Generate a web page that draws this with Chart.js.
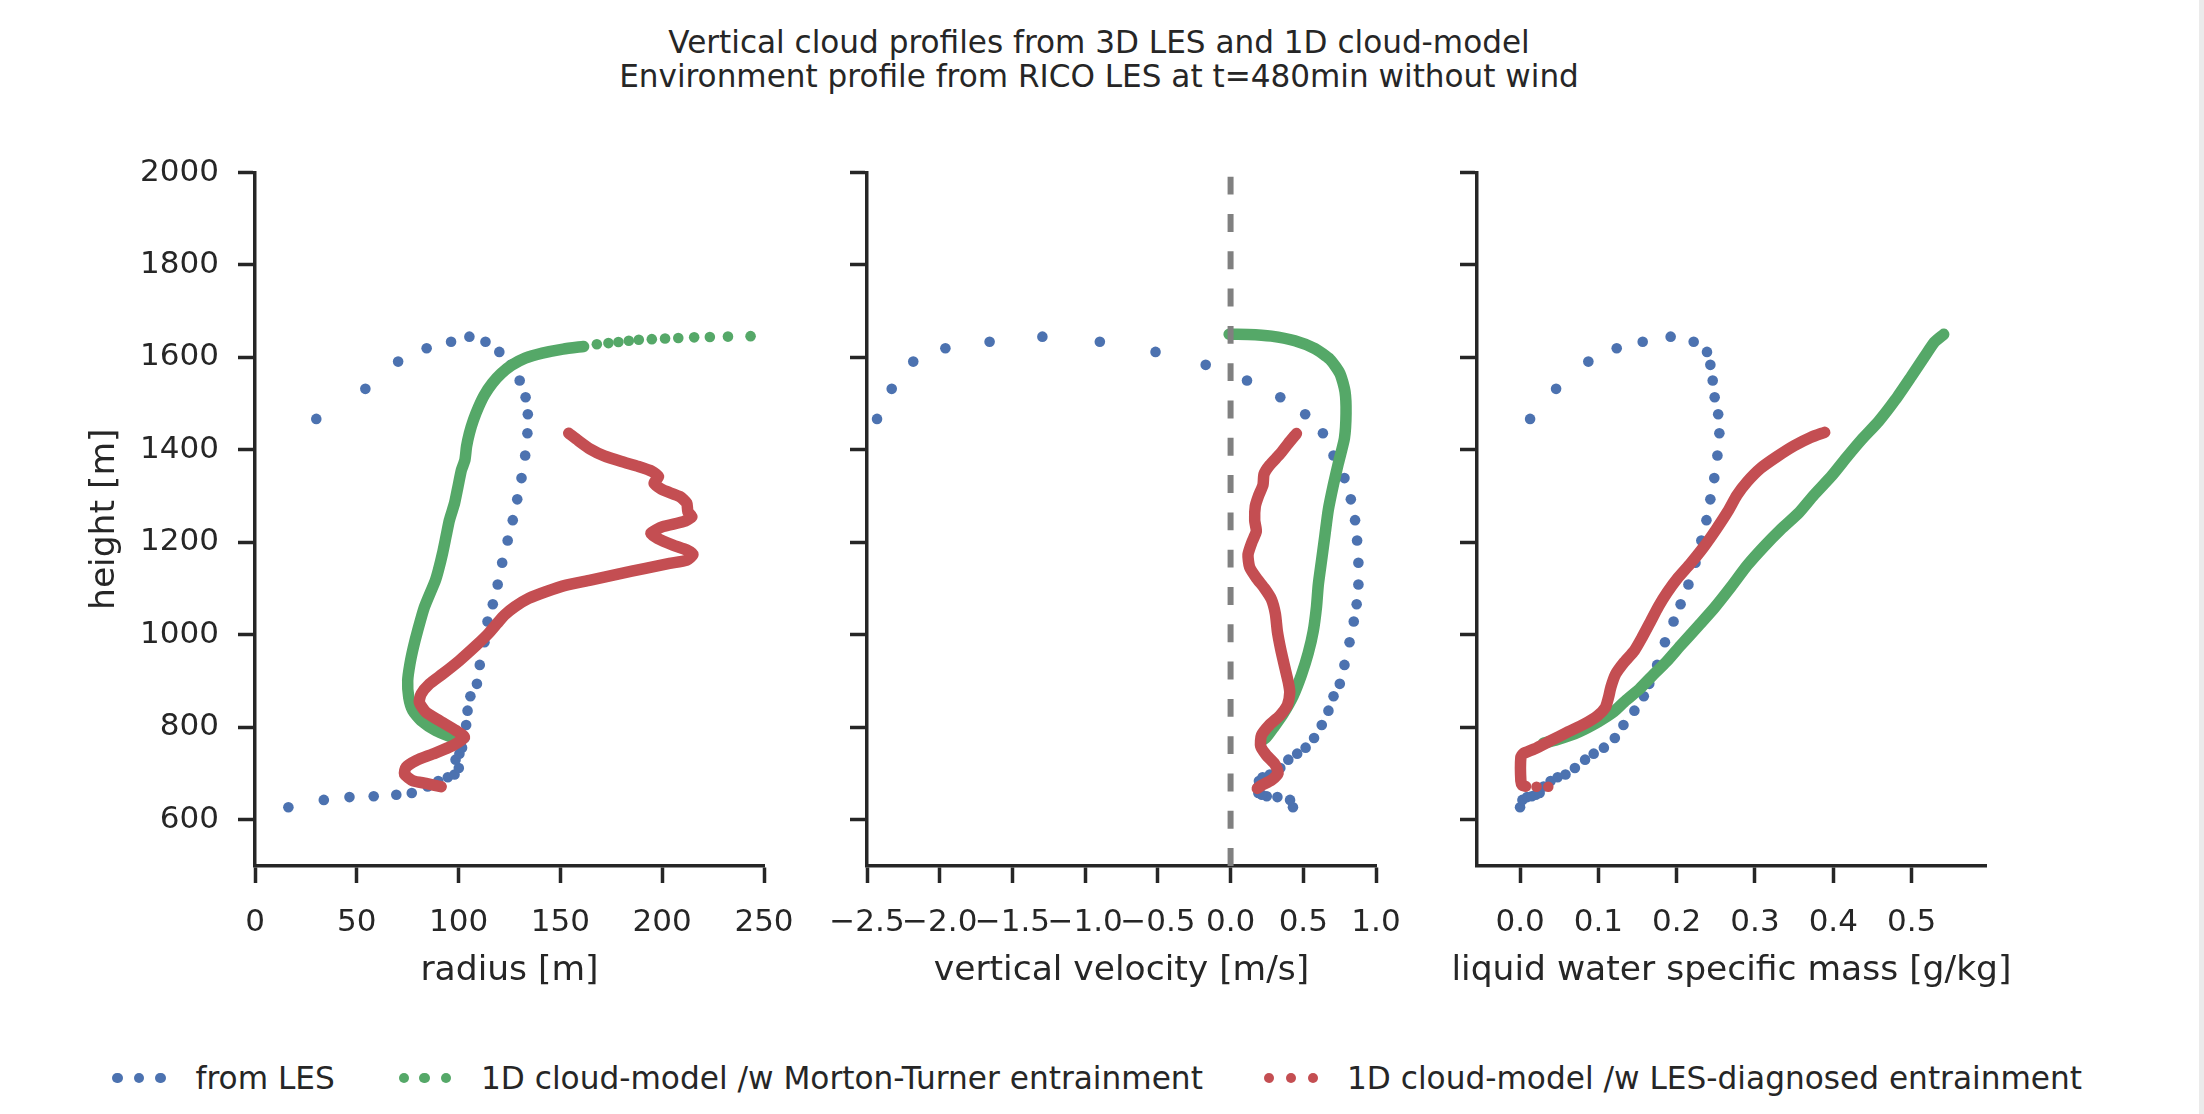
<!DOCTYPE html>
<html>
<head>
<meta charset="utf-8">
<title>Vertical cloud profiles</title>
<script src="https://cdn.jsdelivr.net/npm/chart.js@4.4.1/dist/chart.umd.min.js"></script>
<style>
  html, body { margin: 0; padding: 0; background: #ffffff; }
  body { width: 2204px; height: 1114px; position: relative; overflow: hidden;
         font-family: 'DejaVu Sans', sans-serif; color: #262626; }
  canvas { position: absolute; top: 0; }
  .title { position: absolute; left: 0; top: 25px; width: 2198px; text-align: center;
           font-size: 31.1px; line-height: 34px; white-space: pre; }
  .xlabel { position: absolute; top: 948px; width: 800px; text-align: center;
            font-size: 34.5px; line-height: 40px; white-space: pre; }
  .leg-dot { position: absolute; width: 10.6px; height: 10.6px; border-radius: 50%; }
  .leg-text { position: absolute; top: 1060px; font-size: 31.2px; line-height: 36px; white-space: pre; }
  .edge { position: absolute; left: 2199px; top: 0; width: 5px; height: 1114px; background: #ebebeb; }
</style>
</head>
<body>
<div class="title">Vertical cloud profiles from 3D LES and 1D cloud-model
Environment profile from RICO LES at t=480min without wind</div>

<canvas id="pRadius" width="825" height="1000" style="left:-1px"></canvas>
<canvas id="pVelocity" width="825" height="1000" style="left:611px"></canvas>
<canvas id="pLiquid" width="825" height="1000" style="left:1221px"></canvas>

<div id="xlabels"></div>
<div id="legend"></div>
<div class="edge"></div>

<script>
// ---------------- LES cloud samples (shared heights) ----------------
const lesHeight = [627, 643, 649, 651, 654, 658, 672, 684, 692, 698, 712, 730, 743, 756, 777, 805,
  836, 867, 894, 935, 984, 1029, 1066, 1109, 1156, 1204, 1248, 1293, 1339, 1388, 1436, 1477, 1514,
  1550, 1584, 1612, 1634, 1645, 1634, 1620, 1591, 1532, 1467];
const lesRadius = [16.4, 33.8, 46.4, 58.3, 69.4, 77.0, 84.8, 90.0, 94.7, 98.0, 100.1, 98.5, 100.4,
  101.7, 102.9, 103.7, 104.4, 105.8, 109.0, 110.4, 112.7, 114.2, 116.8, 119.2, 121.4, 124.1, 126.6,
  128.8, 130.9, 132.7, 133.8, 134.0, 132.9, 130.0, 125.7, 120.0, 113.2, 105.3, 96.3, 84.3, 70.3, 54.2, 30.1];
const lesVelocity = [0.429, 0.409, 0.322, 0.249, 0.215, 0.191, 0.19, 0.195, 0.22, 0.27, 0.342, 0.397,
  0.458, 0.516, 0.574, 0.627, 0.673, 0.708, 0.751, 0.783, 0.818, 0.847, 0.867, 0.879, 0.879, 0.870,
  0.856, 0.827, 0.783, 0.708, 0.635, 0.513, 0.342, 0.113, -0.171, -0.516, -0.899, -1.294, -1.657,
  -1.961, -2.182, -2.33, -2.431];
const lesLiquid = [0.000, 0.003, 0.009, 0.015, 0.020, 0.025, 0.030, 0.039, 0.048, 0.058, 0.070, 0.083,
  0.094, 0.107, 0.121, 0.132, 0.146, 0.158, 0.165, 0.175, 0.185, 0.196, 0.205, 0.215, 0.224, 0.2315,
  0.238, 0.243, 0.248, 0.252, 0.2545, 0.253, 0.2485, 0.246, 0.243, 0.2387, 0.2217, 0.1923, 0.1566,
  0.1234, 0.0872, 0.046, 0.0128];

// ---------------- 1D model, Morton-Turner entrainment ----------------
const mtRadius = [100, 98.8, 88.9, 81.6, 77.5, 75.5, 75, 76.1, 77.8, 79.9, 83.2, 88.6, 90.1, 92.1, 93.8,
  95.5, 98, 99.7, 101.4, 103.1, 103.9, 105.3, 107.3, 109.9, 112.7, 116.6, 120.8, 125.9, 132.7, 141.1,
  151.3, 161.4];
const mtRadiusHeight = [770, 774.7, 792.8, 814.5, 836.1, 865, 901.1, 937.2, 973.3, 1009.4, 1059.9,
  1117.7, 1140.1, 1176.2, 1212.3, 1248.4, 1284.5, 1320.6, 1356.7, 1378.3, 1407.2, 1436.1, 1465, 1493.9,
  1519.1, 1544.4, 1564.6, 1582.7, 1598.6, 1609.4, 1618.1, 1623.8];
// widely spaced top levels, where the model steps separate into single dots
const mtRadiusTop = [167.9, 173.6, 178.5, 183.6, 188.5, 194.9, 201.4, 207.9, 215.7, 223.4, 232.3, 243.4];
const mtRadiusTopHeight = [1628.5, 1631.0, 1633.4, 1636.2, 1638.3, 1639.5, 1640.9, 1642.1, 1643.4,
  1644.3, 1645.1, 1646.0];

const mtVelocity = [0.215, 0.246, 0.292, 0.361, 0.43, 0.488, 0.534, 0.568, 0.591, 0.603, 0.626, 0.649,
  0.672, 0.707, 0.741, 0.783, 0.794, 0.787, 0.753, 0.684, 0.58, 0.442, 0.281, 0.12, -0.01];
const mtVelocityHeight = [771, 778.5, 797.9, 828.9, 867.6, 914, 960.5, 1007, 1061.2, 1107.7, 1161.9,
  1216.1, 1270.3, 1324.5, 1371, 1425.2, 1479.4, 1525.9, 1564.6, 1595.6, 1618.9, 1635.9, 1646, 1649.8, 1650];

const mtLiquid = [0.03, 0.045, 0.075, 0.1, 0.12, 0.135, 0.152, 0.168, 0.187, 0.205, 0.228, 0.248, 0.27,
  0.29, 0.311, 0.333, 0.356, 0.375, 0.398, 0.418, 0.436, 0.458, 0.479, 0.5, 0.517, 0.529, 0.541];
const mtLiquidHeight = [766, 772, 790, 812, 834, 858, 882, 910, 942, 977, 1020, 1058, 1105, 1150, 1190,
  1228, 1264, 1302, 1344, 1386, 1422, 1462, 1508, 1560, 1603, 1633, 1650];

// ---------------- 1D model, LES-diagnosed entrainment ----------------
const ldRadius = [91.4, 84, 77.5, 73.4, 74.2, 79.1, 87.3, 97.1, 102.9, 98.8, 90.6, 84, 80.7, 81.6, 85.7,
  92.2, 100.4, 108.6, 114.5, 119, 122.5, 127.6, 134.4, 142.8, 152.9, 164.8, 178.3, 191.8, 203.6, 212.1,
  215.1, 212.1, 205.3, 197.7, 194.4, 200.3, 210.4, 214.6, 212.6, 212.1, 208.7, 200.3, 196, 198.2, 195.2,
  188.4, 180, 171.5, 164.8, 158.8, 154.1];
const ldRadiusHeight = [671.5, 678.7, 684.5, 698.9, 713.4, 727.8, 742.2, 760.3, 778.3, 792.8, 814.4,
  832.5, 854.1, 872.2, 893.9, 915.5, 944.4, 976.9, 1002, 1025, 1042.6, 1060.7, 1078.7, 1093.2, 1107.6,
  1118.4, 1131.4, 1143.7, 1154.5, 1161.8, 1174, 1183.4, 1194.2, 1208.7, 1219.5, 1233.9, 1244.8, 1255.6,
  1266.4, 1284.5, 1298.9, 1313.4, 1327.8, 1342.2, 1353.1, 1363.9, 1374.7, 1387, 1401.4, 1420.2, 1436.1];

const ldVelocity = [0.184, 0.212, 0.281, 0.327, 0.304, 0.246, 0.207, 0.212, 0.269, 0.338, 0.391, 0.407,
  0.396, 0.373, 0.345, 0.322, 0.308, 0.281, 0.235, 0.177, 0.131, 0.12, 0.147, 0.177, 0.166, 0.17, 0.193,
  0.223, 0.23, 0.269, 0.338, 0.396, 0.453];
const ldVelocityHeight = [667.8, 674, 685.6, 701.1, 720.4, 739.8, 759.2, 782.4, 805.6, 825, 848.2, 875.3,
  898.6, 929.6, 968.3, 1007, 1045.7, 1076.7, 1099.9, 1123.2, 1146.4, 1173.5, 1200.6, 1223.9, 1247.1,
  1278.1, 1301.3, 1324.5, 1347.8, 1367.1, 1390.4, 1413.6, 1435.3];

const ldLiquid = [0.007, 0.003, 0.001, 0.001, 0.004, 0.018, 0.039, 0.06, 0.082, 0.099, 0.109, 0.113,
  0.116, 0.122, 0.133, 0.146, 0.156, 0.167, 0.177, 0.188, 0.201, 0.218, 0.235, 0.25, 0.265, 0.277, 0.29,
  0.307, 0.3285, 0.35, 0.371, 0.389];
const ldLiquidHeight = [672.5, 674, 684, 735, 743, 753, 771, 789, 807, 825, 843, 865, 887, 915, 941, 966,
  995, 1030, 1062, 1092, 1122, 1155, 1191, 1227, 1266, 1302, 1331, 1360, 1386, 1409, 1427, 1438];
// first two levels at cloud base, drawn as separate dots
const ldLiquidBase = [0.036, 0.021];
const ldLiquidBaseHeight = [671.5, 671.5];

// zero-velocity reference line
const zeroLineVelocity = [0, 0];
const zeroLineHeight = [500, 2000];

// ---------------- axes ----------------
const heightTicks = [600, 800, 1000, 1200, 1400, 1600, 1800, 2000];
const radiusTicks = [0, 50, 100, 150, 200, 250];
const velocityTicks = [-2.5, -2.0, -1.5, -1.0, -0.5, 0.0, 0.5, 1.0];
const liquidTicks = [0.0, 0.1, 0.2, 0.3, 0.4, 0.5];
const xAxisTitles = ['radius [m]', 'vertical velocity [m/s]', 'liquid water specific mass [g/kg]'];

const BLUE = '#4C72B0', GREEN = '#55A868', RED = '#C44E52', INK = '#262626';
const FONT = "'DejaVu Sans', sans-serif";
const AXIS_W = 256, AXIS_H = 134;

function pts(xs, ys) { return xs.map((x, i) => ({ x: x, y: ys[i] })); }

function dots(xs, ys, color, order) {
  return { data: pts(xs, ys), showLine: false, pointRadius: 5.3, pointHoverRadius: 5.3,
           pointBackgroundColor: color, pointBorderWidth: 0, order: order };
}
function curve(xs, ys, color, order) {
  return { data: pts(xs, ys), showLine: true, borderColor: color, borderWidth: 11.5,
           pointRadius: 0, pointHoverRadius: 0, tension: 0.2, fill: false,
           borderCapStyle: 'round', borderJoinStyle: 'round', order: order };
}

function fmt(v, digits) {
  const s = Number(v).toFixed(digits);
  return s.replace('-', '\u2212');
}

const xLabelBox = document.getElementById('xlabels');

function makePanel(id, cfg) {
  const canvas = document.getElementById(id);
  const chart = new Chart(canvas.getContext('2d'), {
    type: 'scatter',
    data: { datasets: cfg.datasets },
    options: {
      responsive: false,
      devicePixelRatio: 1,
      animation: false,
      events: [],
      layout: { padding: { top: 172.5, right: 60, bottom: 0, left: 0 } },
      plugins: { legend: { display: false }, tooltip: { enabled: false }, title: { display: false } },
      scales: {
        x: {
          type: 'linear', position: 'bottom', min: cfg.xMin, max: cfg.xMax,
          afterFit: s => { s.height = AXIS_H; },
          afterBuildTicks: s => { s.ticks = cfg.xTicks.map(v => ({ value: v })); },
          border: { display: true, color: INK, width: 3.5 },
          grid: { display: true, drawOnChartArea: false, drawTicks: true, tickLength: 17,
                  tickWidth: 3.5, tickColor: INK, color: INK },
          ticks: { autoSkip: false, maxRotation: 0, minRotation: 0, padding: 21,
                   color: INK, font: { family: FONT, size: 31 },
                   callback: v => fmt(v, cfg.xDigits) }
        },
        y: {
          type: 'linear', position: 'left', min: 500, max: 2000,
          afterFit: s => { s.width = AXIS_W; },
          afterBuildTicks: s => { s.ticks = heightTicks.map(v => ({ value: v })); },
          border: { display: true, color: INK, width: 3.5 },
          grid: { display: true, drawOnChartArea: false, drawTicks: true, tickLength: 17,
                  tickWidth: 3.5, tickColor: INK, color: INK },
          ticks: { display: cfg.yLabels, autoSkip: false, padding: 19, color: INK,
                   font: { family: FONT, size: 31 }, callback: v => String(v) },
          title: { display: cfg.yLabels, text: 'height [m]', color: INK,
                   font: { family: FONT, size: 34.5 }, padding: { top: 85, bottom: 0 } }
        }
      }
    }
  });
  // x-axis title, centred under the plotting area
  const area = chart.chartArea;
  const left = parseFloat(canvas.style.left);
  const lbl = document.createElement('div');
  lbl.className = 'xlabel';
  lbl.style.left = (left + (area.left + area.right) / 2 - 400) + 'px';
  lbl.textContent = cfg.xTitle;
  xLabelBox.appendChild(lbl);
  return chart;
}

makePanel('pRadius', {
  xMin: 0, xMax: 250, xTicks: radiusTicks, xDigits: 0, xTitle: xAxisTitles[0], yLabels: true,
  datasets: [
    dots(lesRadius, lesHeight, BLUE, 5),
    curve(mtRadius, mtRadiusHeight, GREEN, 4),
    dots(mtRadiusTop, mtRadiusTopHeight, GREEN, 4),
    curve(ldRadius, ldRadiusHeight, RED, 2)
  ]
});

makePanel('pVelocity', {
  xMin: -2.5, xMax: 1.0, xTicks: velocityTicks, xDigits: 1, xTitle: xAxisTitles[1], yLabels: false,
  datasets: [
    dots(lesVelocity, lesHeight, BLUE, 5),
    curve(mtVelocity, mtVelocityHeight, GREEN, 4),
    curve(ldVelocity, ldVelocityHeight, RED, 2),
    { data: pts(zeroLineVelocity, zeroLineHeight), showLine: true, borderColor: '#808080',
      borderWidth: 6, borderDash: [17.9, 19.4], borderCapStyle: 'butt', pointRadius: 0,
      pointHoverRadius: 0, fill: false, order: 1 }
  ]
});

makePanel('pLiquid', {
  xMin: -0.055, xMax: 0.595, xTicks: liquidTicks, xDigits: 1, xTitle: xAxisTitles[2], yLabels: false,
  datasets: [
    dots(lesLiquid, lesHeight, BLUE, 5),
    curve(mtLiquid, mtLiquidHeight, GREEN, 4),
    curve(ldLiquid, ldLiquidHeight, RED, 2),
    dots(ldLiquidBase, ldLiquidBaseHeight, RED, 2)
  ]
});

// ---------------- legend ----------------
const legendItems = [
  { label: 'from LES', color: BLUE, dotX: [117.3, 139.2, 160.6], textX: 195.5 },
  { label: '1D cloud-model /w Morton-Turner entrainment', color: GREEN, dotX: [403.9, 424.4, 446.2], textX: 481 },
  { label: '1D cloud-model /w LES-diagnosed entrainment', color: RED, dotX: [1269.2, 1291.0, 1312.9], textX: 1347 }
];
const legend = document.getElementById('legend');
legendItems.forEach(item => {
  item.dotX.forEach(cx => {
    const d = document.createElement('div');
    d.className = 'leg-dot';
    d.style.left = (cx - 5.3) + 'px';
    d.style.top = (1078 - 5.3) + 'px';
    d.style.background = item.color;
    legend.appendChild(d);
  });
  const t = document.createElement('div');
  t.className = 'leg-text';
  t.style.left = item.textX + 'px';
  t.textContent = item.label;
  legend.appendChild(t);
});
</script>
</body>
</html>
